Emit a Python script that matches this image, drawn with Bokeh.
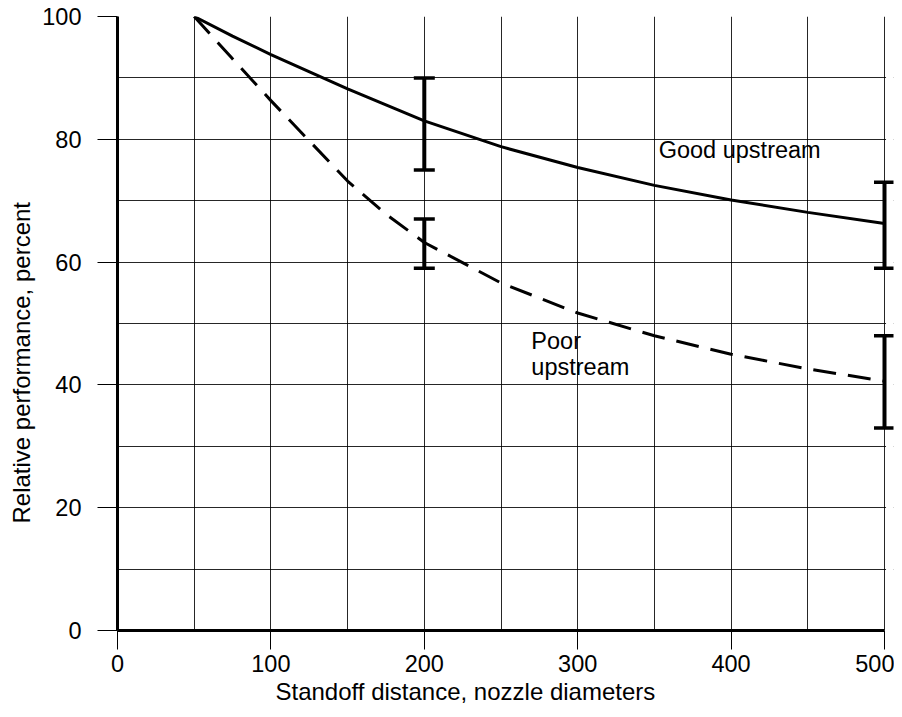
import numpy as np
from bokeh.plotting import figure
from bokeh.models import (Range1d, FixedTicker, Whisker, TeeHead, ColumnDataSource, Title,
                          BoxAnnotation)
from bokeh.core.properties import value
from bokeh.embed import file_html
from bokeh.resources import INLINE

# ---- data ----
standoff = [50, 75, 100, 150, 175, 200, 250, 300, 350, 400, 450, 500]
good_upstream = [100, 96.8, 93.8, 88.2, 85.6, 83.0, 78.8, 75.4, 72.5, 70.1, 68.1, 66.3]
poor_upstream = [100, 93.1, 86.3, 73.2, 67.8, 63.2, 56.6, 51.7, 48.0, 45.0, 42.6, 40.6]

err_x = [200, 500, 200, 500]
err_low = [75, 59, 59, 33]
err_high = [90, 73, 67, 48]

x_ticks = [0, 100, 200, 300, 400, 500]
x_minor = [50, 150, 250, 350, 450]
y_ticks = [0, 20, 40, 60, 80, 100]
y_minor = [10, 30, 50, 70, 90]

x_label = "Standoff distance, nozzle diameters"
y_label = "Relative performance, percent"
good_text = "Good upstream"
poor_text = ["Poor", "upstream"]

FONT = "Liberation Sans"
FS = "23.5px"
FS_LABEL = "24px"

W, H = 894, 709
LEFT, TOP, BOTTOM = 117, 16, 79
DATA_RIGHT_PX = 884          # pixel where x = 500 lies
FRAME_RIGHT_PX = 893         # frame extends a little so the end error bars are not clipped
x_end = 500 * (FRAME_RIGHT_PX - LEFT) / (DATA_RIGHT_PX - LEFT)

p = figure(width=W, height=H, output_backend="svg", toolbar_location=None,
           x_range=Range1d(0, x_end), y_range=Range1d(0, 100),
           min_border_left=LEFT, min_border_right=W - FRAME_RIGHT_PX,
           min_border_top=TOP, min_border_bottom=BOTTOM)
p.background_fill_color = "white"
p.border_fill_color = "white"
p.outline_line_color = None

for ax, ticks, minor in ((p.xaxis[0], x_ticks, x_minor), (p.yaxis[0], y_ticks, y_minor)):
    ax.ticker = FixedTicker(ticks=ticks, minor_ticks=minor)
    ax.axis_line_width = 3
    ax.axis_line_color = "black"
    ax.major_tick_line_color = "black"
    ax.major_tick_line_width = 1
    ax.major_tick_in = 0
    ax.minor_tick_line_color = None
    ax.major_label_text_font = FONT
    ax.major_label_text_font_size = FS
    ax.major_label_text_color = "black"

p.xaxis.bounds = (0, 500)
p.xaxis.major_tick_out = 19
p.yaxis.major_tick_out = 20
p.xaxis.major_label_standoff = 5
p.yaxis.major_label_standoff = 16

for g in (p.xgrid[0], p.ygrid[0]):
    g.grid_line_color = "black"
    g.grid_line_width = 1
    g.grid_line_alpha = 0.85
    g.minor_grid_line_color = "black"
    g.minor_grid_line_width = 1
    g.minor_grid_line_alpha = 0.85

# hide the grid beyond x = 500
p.add_layout(BoxAnnotation(left=501, fill_color="white", fill_alpha=1, line_color=None,
                           level="underlay"))

p.line(standoff, good_upstream, line_color="black", line_width=3)
p.line(standoff, poor_upstream, line_color="black", line_width=3, line_dash="23 12")

src = ColumnDataSource(dict(x=err_x, lo=err_low, hi=err_high))
w = Whisker(base="x", lower="lo", upper="hi", source=src, line_color="black", line_width=4,
            upper_head=TeeHead(size=21, line_width=3.5, line_color="black"),
            lower_head=TeeHead(size=21, line_width=3.5, line_color="black"))
p.add_layout(w)

p.text(x=[352.8], y=[78.2], text=[good_text], text_font=value(FONT),
       text_font_size=value(FS), text_baseline="middle", text_align="left", text_color="black")
p.text(x=[269.8, 269.8], y=[47.2, 42.9], text=poor_text, text_font=value(FONT),
       text_font_size=value(FS), text_baseline="middle", text_align="left", text_color="black")

# axis titles, placed as in the reference (not centred on the frame)
p.add_layout(Title(text=x_label, align="left", offset=275 - LEFT, standoff=2,
                   text_font=FONT, text_font_size=FS_LABEL, text_font_style="normal",
                   text_color="black"), "below")
p.add_layout(Title(text=y_label, align="left", offset=(H - BOTTOM) - 523, standoff=9,
                   text_font=FONT, text_font_size=FS_LABEL, text_font_style="normal",
                   text_color="black"), "left")

open("out.html", "w").write(file_html(p, INLINE))
